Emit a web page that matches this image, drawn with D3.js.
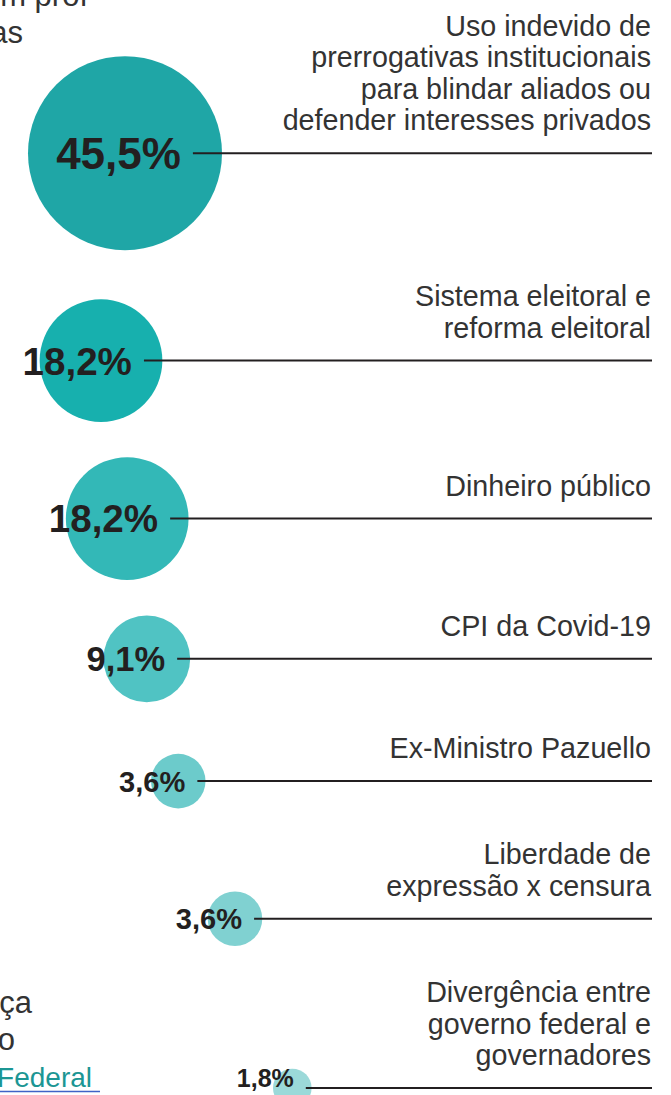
<!DOCTYPE html>
<html>
<head>
<meta charset="utf-8">
<script src="https://cdn.jsdelivr.net/npm/d3@7"></script>
<style>
    html, body { margin: 0; padding: 0; background: #fff; overflow: hidden; }
    svg { display: block; }
    .topic { font-family: "Liberation Sans", Arial, sans-serif; font-size: 28.7px; fill: #333; }
    .pct { font-family: "Liberation Sans", Arial, sans-serif; font-weight: bold; fill: #231f20; }
    .rule { stroke: #231f20; stroke-width: 2; }
    .aside { font-family: "Liberation Sans", Arial, sans-serif; font-size: 31px; fill: #333; }
</style>
</head>
<body>
<svg id="chart"></svg>
<script>
// Topics, one entry per row (each entry holds the lines of its label)
const topics = [
    ["Uso indevido de", "prerrogativas institucionais", "para blindar aliados ou", "defender interesses privados"],
    ["Sistema eleitoral e", "reforma eleitoral"],
    ["Dinheiro público"],
    ["CPI da Covid-19"],
    ["Ex-Ministro Pazuello"],
    ["Liberdade de", "expressão x censura"],
    ["Divergência entre", "governo federal e", "governadores"]
];

// Share of each topic, in percent
const shares = [45.5, 18.2, 18.2, 9.1, 3.6, 3.6, 1.8];

// Bubble colours, darkest first
const palette = ["#1fa6a6", "#17b0ae", "#33b8b7", "#50c3c3", "#6ccbcb", "#80d1d1", "#9bd9d9"];

// Bits of the neighbouring text column that show at the left edge
const asideTop = ["m prof", "as"];
const asideBottom = ["ça", "o", "Federal"];

let w = 671;
let h = 1095;

// text metrics of the topic labels
const lineHeight = 31.5;
const capHeight = 20.7;
const ruleGap = 23; // distance from the last label baseline to the rule
const rightEdge = 651;

const ptBR = d3.formatLocale({ decimal: ",", thousands: ".", grouping: [3], currency: ["R$", ""] });
const fmt = ptBR.format(".1f");

function createSvg(w, h) {
    let svg = d3.select("#chart")
        .attr("width", w)
        .attr("height", h);
    return svg;
}

// Works out where every row sits
function layoutRows(n) {
    let rScale = d3.scaleSqrt()
        .domain([0, d3.max(shares)])
        .range([0, 97]);

    // bubbles drift to the right as they shrink
    let leftScale = d3.scalePow()
        .exponent(1.7)
        .domain([0, n - 1])
        .range([28, 273]);

    let rows = shares.map((v, i) => {
        let r = rScale(v);
        let lines = topics[i];
        let textAbove = ruleGap + (lines.length - 1) * lineHeight + capHeight;
        return {
            i: i,
            value: v,
            lines: lines,
            r: r,
            cx: leftScale(i) + r,
            above: Math.max(r, textAbove),
            below: r
        };
    });

    // stack rows top to bottom, spreading the free space evenly
    let firstY = 15 + rows[0].above;
    let lastY = h - 7;
    let used = d3.sum(rows.slice(1), (d, k) => d.above + rows[k].below);
    let gap = (lastY - firstY - used) / (n - 1);

    rows[0].y = firstY;
    for (let i = 1; i < n; i++) {
        rows[i].y = rows[i - 1].y + rows[i - 1].below + gap + rows[i].above;
    }
    return rows;
}

function drawRows(svg, rows) {
    let colorScale = d3.scaleOrdinal()
        .domain(rows.map((d) => d.i))
        .range(palette);

    let fontScale = d3.scaleLog()
        .domain(d3.extent(shares))
        .range([25, 44]);

    let row = svg.selectAll(".row")
        .data(rows)
        .enter()
        .append("g")
        .attr("class", "row");

    row.append("circle")
        .attr("cx", (d) => d.cx)
        .attr("cy", (d) => d.y)
        .attr("r", (d) => d.r)
        .attr("fill", (d) => colorScale(d.i));

    // the rule starts inside the bubble
    row.append("line")
        .attr("class", "rule")
        .attr("x1", (d) => d.cx + d.r * 0.7)
        .attr("x2", rightEdge + 1)
        .attr("y1", (d) => d.y)
        .attr("y2", (d) => d.y);

    // value centred on the rule, but never pushed under the bottom edge
    row.append("text")
        .attr("class", "pct")
        .attr("x", (d) => d.cx + d.r * 0.7 - 12)
        .attr("y", (d) => Math.min(d.y + 0.36 * fontScale(d.value), h - 8))
        .attr("text-anchor", "end")
        .style("font-size", (d) => fontScale(d.value) + "px")
        .text((d) => fmt(d.value) + "%");

    // topic labels, right aligned, last line sitting above the rule
    row.append("text")
        .attr("class", "topic")
        .attr("text-anchor", "end")
        .selectAll("tspan")
        .data((d) => d.lines.map((t, k) => ({ t: t, y: d.y - ruleGap - (d.lines.length - 1 - k) * lineHeight })))
        .enter()
        .append("tspan")
        .attr("x", rightEdge)
        .attr("y", (d) => d.y)
        .text((d) => d.t);
}

// the cut off text from the column on the left
function drawAside(svg) {
    svg.append("text").attr("class", "aside").attr("text-anchor", "end")
        .attr("x", 88).attr("y", 6).text(asideTop[0]);
    svg.append("text").attr("class", "aside").attr("text-anchor", "end")
        .attr("x", 23).attr("y", 43).text(asideTop[1]);

    svg.append("text").attr("class", "aside").attr("text-anchor", "end")
        .attr("x", 32).attr("y", 1013).text(asideBottom[0]);
    svg.append("text").attr("class", "aside").attr("text-anchor", "end")
        .attr("x", 15).attr("y", 1050).text(asideBottom[1]);
    svg.append("text").attr("class", "aside").attr("text-anchor", "end")
        .attr("x", 92).attr("y", 1087)
        .style("fill", "#1c9694")
        .style("font-size", "28px")
        .text(asideBottom[2]);
    svg.append("line")
        .attr("x1", 0).attr("x2", 100)
        .attr("y1", 1091.5).attr("y2", 1091.5)
        .attr("stroke", "#3f63c6")
        .attr("stroke-width", 1.5);
}

function drawChart() {
    let svg = createSvg(w, h);
    let rows = layoutRows(shares.length);
    drawAside(svg);
    drawRows(svg, rows);
}

drawChart();
</script>
</body>
</html>
